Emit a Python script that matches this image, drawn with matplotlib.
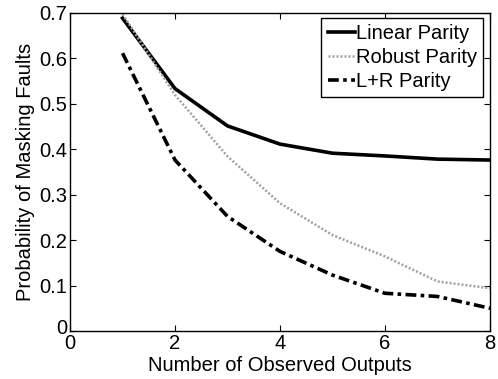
import matplotlib.pyplot as plt
from matplotlib.transforms import ScaledTranslation

# values
outputs = [1, 2, 3, 4, 5, 6, 7, 8]
linear_parity = [0.688, 0.533, 0.451, 0.411, 0.391, 0.385, 0.378, 0.376]
robust_parity = [0.697, 0.519, 0.384, 0.281, 0.211, 0.164, 0.109, 0.094]
lr_parity = [0.611, 0.376, 0.252, 0.175, 0.123, 0.083, 0.076, 0.050]

x_ticks = [0, 2, 4, 6, 8]
y_ticks = [0, 0.1, 0.2, 0.3, 0.4, 0.5, 0.6, 0.7]
y_tick_labels = ["0", "0.1", "0.2", "0.3", "0.4", "0.5", "0.6", "0.7"]

plt.rcParams['font.family'] = ['Liberation Sans', 'DejaVu Sans']
fs = 14.5

fig = plt.figure(figsize=(4.98, 3.79), dpi=100)
ax = fig.add_axes([0.1406, 0.1266, 0.8434, 0.8399])

ax.plot(outputs, linear_parity, color='black', linewidth=2.6, linestyle='-', label='Linear Parity')
ax.plot(outputs, robust_parity, color='#a0a0a0', linewidth=1.8, linestyle=(0, (0.8, 0.8)), label='Robust Parity')
ax.plot(outputs, lr_parity, color='black', linewidth=2.6, linestyle=(0, (3, 1.2, 1, 1.2)), label='L+R Parity')

ax.set_xlim(0, 8)
ax.set_ylim(0, 0.7)
ax.set_xticks(x_ticks)
ax.set_yticks(y_ticks)
ax.set_yticklabels(y_tick_labels)
ax.tick_params(direction='in', top=True, right=True, labelsize=fs, pad=2, length=4)
for s in ax.spines.values():
    s.set_linewidth(1.0)

# MATLAB puts the y "0" a little higher than the axis line
zero_lbl = ax.get_yticklabels()[0]
zero_lbl.set_transform(zero_lbl.get_transform() + ScaledTranslation(0, 3 / 72, fig.dpi_scale_trans))

ax.set_xlabel('Number of Observed Outputs', fontsize=fs, labelpad=2)
ax.set_ylabel('Probability of Masking Faults', fontsize=fs, labelpad=3)

leg = ax.legend(loc='upper right', bbox_to_anchor=(0.983, 0.983), fontsize=fs, frameon=True,
                fancybox=False, edgecolor='black', framealpha=1, handlelength=1.35,
                handletextpad=0.05, borderpad=0.3, labelspacing=0.25, borderaxespad=0)
leg.get_frame().set_linewidth(1.0)

fig.savefig('out.png', dpi=100)
